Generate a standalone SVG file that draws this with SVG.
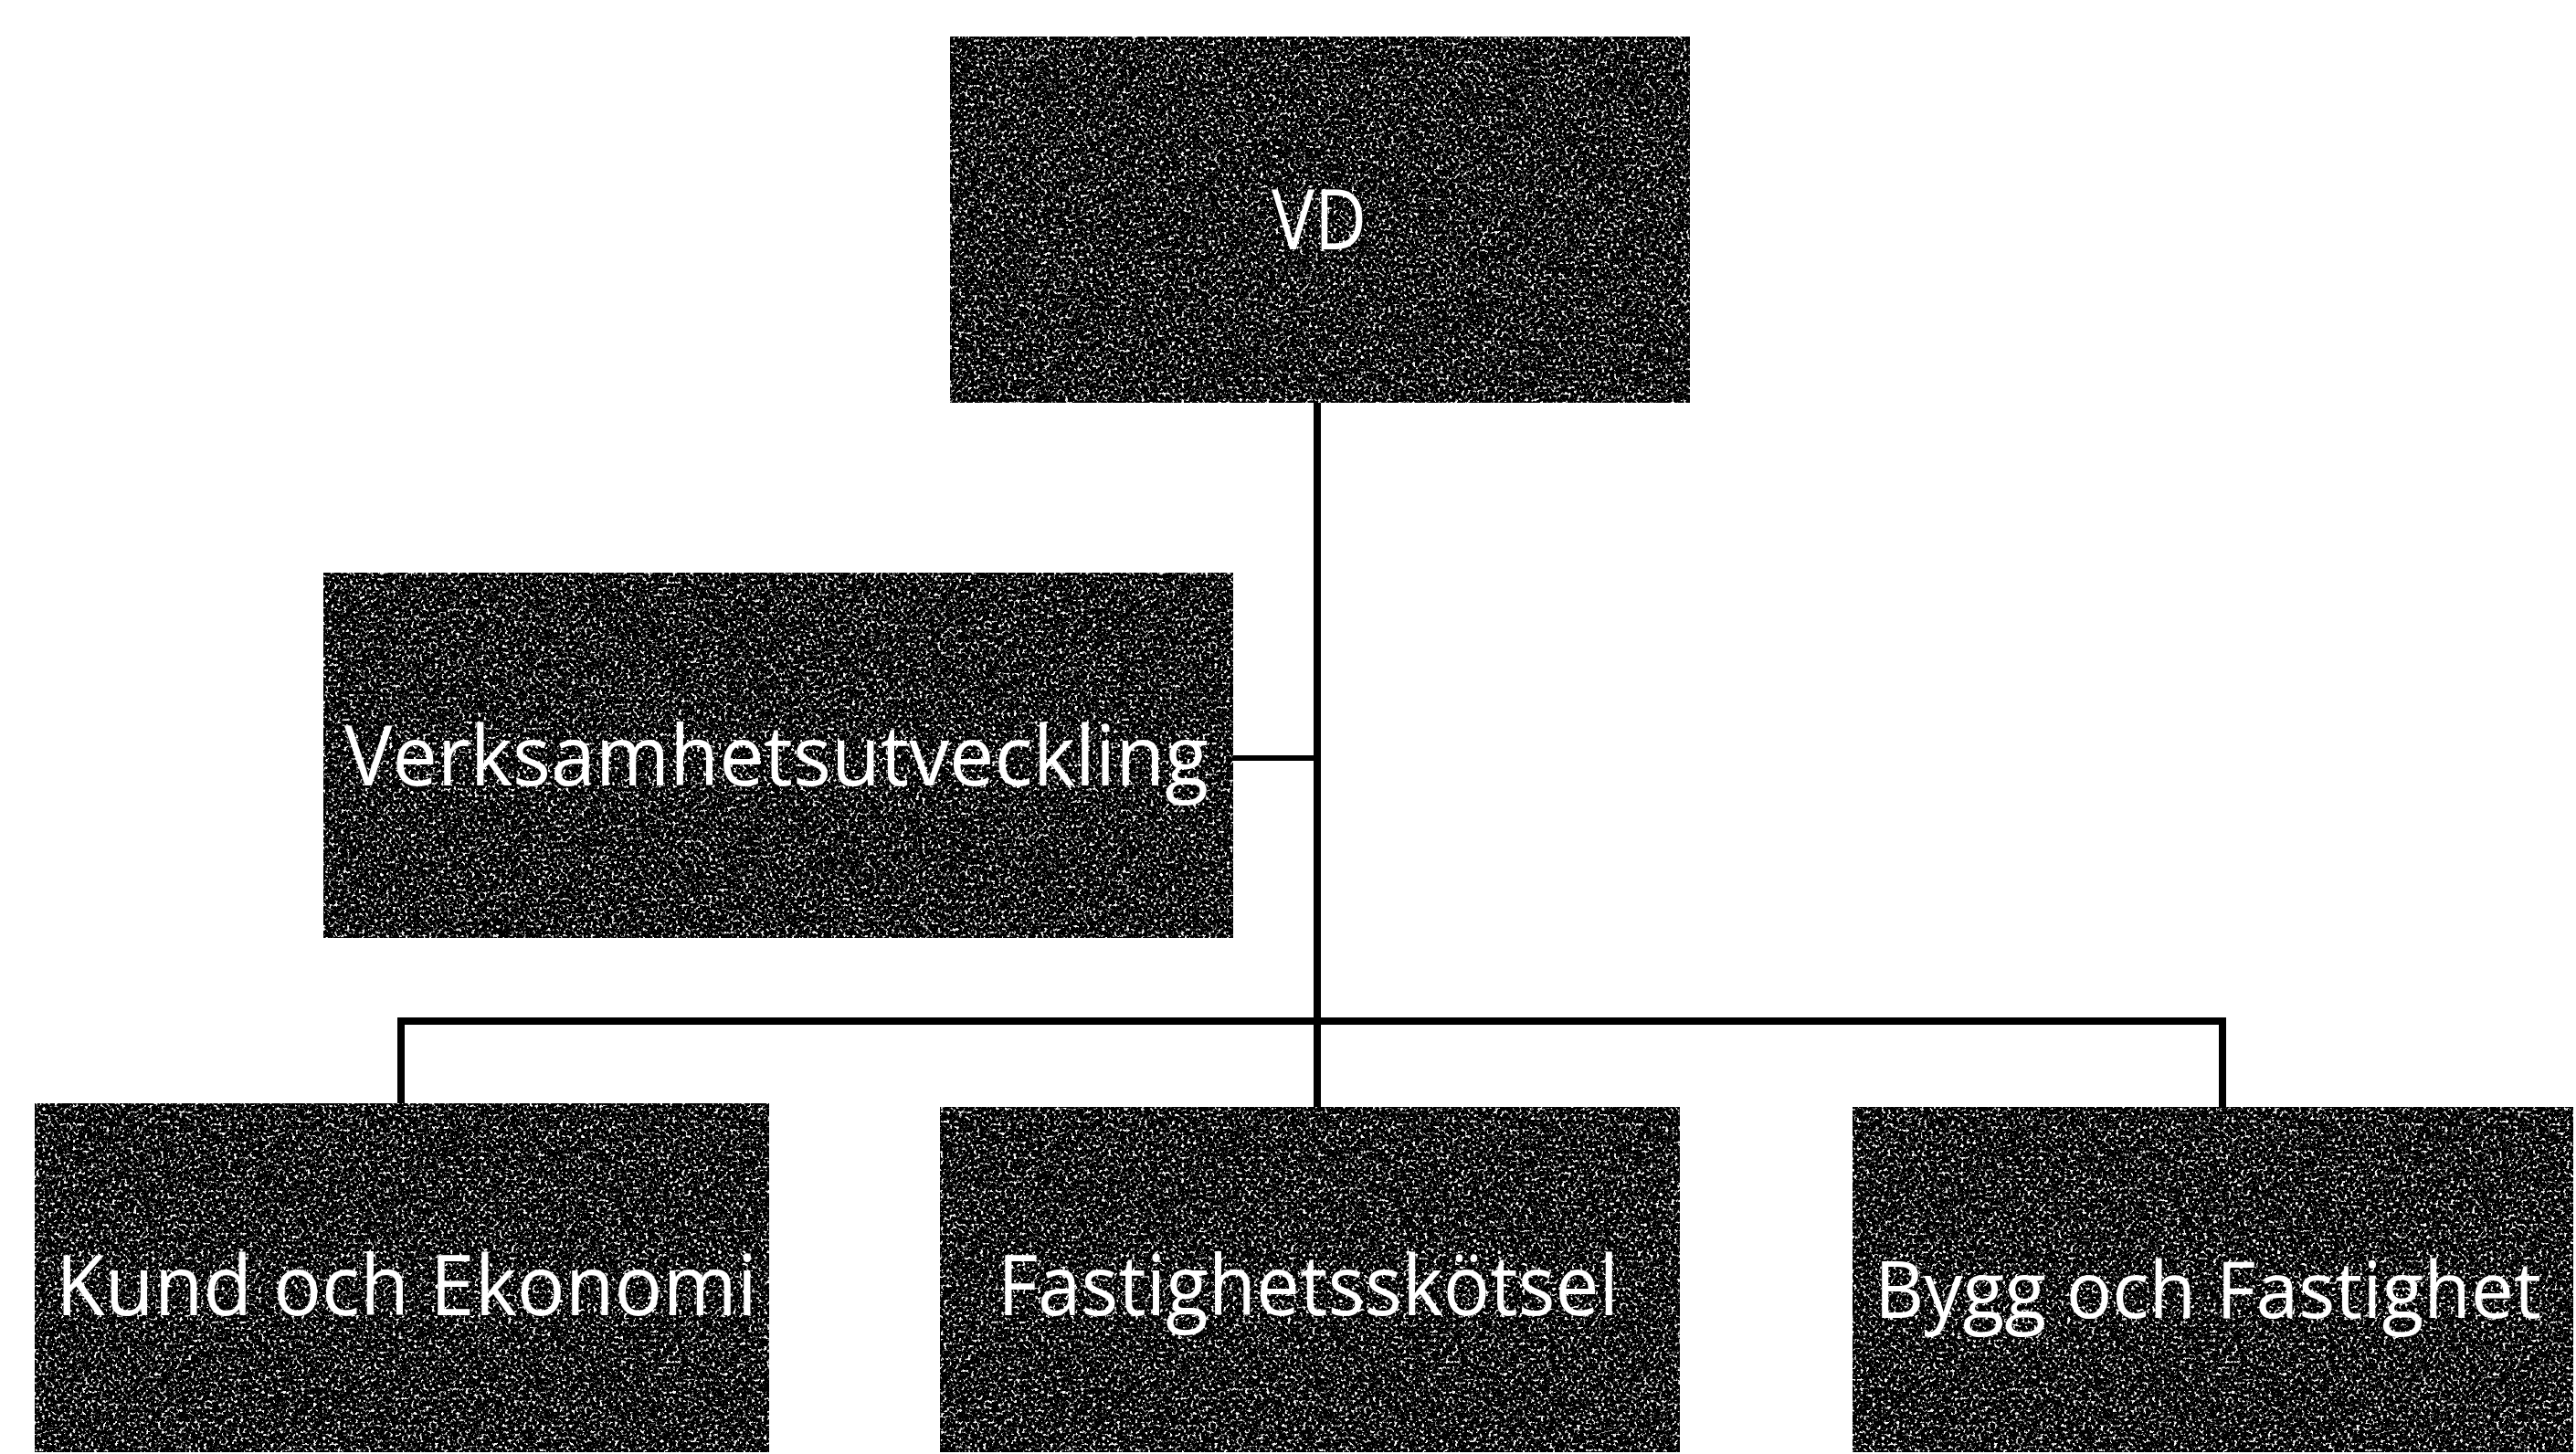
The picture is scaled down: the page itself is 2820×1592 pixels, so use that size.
<svg xmlns="http://www.w3.org/2000/svg" width="2820" height="1592" viewBox="0 0 2820 1592">
  <defs>
    <filter id="grain" x="0" y="0" width="100%" height="100%" color-interpolation-filters="sRGB">
      <feTurbulence type="fractalNoise" baseFrequency="0.3" numOctaves="3" seed="7" result="noise"/>
      <feColorMatrix in="noise" type="matrix" values="0 0 0 0 1  0 0 0 0 1  0 0 0 0 1  7 0 0 0 -3.9" result="spk"/>
      <feComposite in="spk" in2="SourceGraphic" operator="in" result="spkIn"/>
      <feMerge>
        <feMergeNode in="SourceGraphic"/>
        <feMergeNode in="spkIn"/>
      </feMerge>
    </filter>
  </defs>
  <style>
    .box { fill: #000000; stroke: #000000; stroke-width: 4; filter: url(#grain); }
    .lbl { font-family: "Open Sans", "Liberation Sans", sans-serif; fill: #ffffff; font-size: 92px; }
    .conn { stroke: #000000; stroke-width: 8; fill: none; stroke-linecap: square; }
    .thin { stroke: #000000; stroke-width: 6; fill: none; }
  </style>
  <rect width="2820" height="1592" fill="#ffffff"/>

  <g id="connectors">
    <path class="conn" d="M1442 441 V1212"/>
    <path class="conn" d="M439 1208 V1118 H2433 V1212"/>
    <path class="thin" d="M1350 830 H1442"/>
  </g>

  <g id="node-vd">
    <rect class="box" x="1040" y="40" width="810" height="401"/>
    <text class="lbl" x="1444" y="273" text-anchor="middle" textLength="104" lengthAdjust="spacingAndGlyphs">VD</text>
  </g>

  <g id="node-verksamhetsutveckling">
    <rect class="box" x="354" y="627" width="996" height="400"/>
    <text class="lbl" x="377" y="860" textLength="946" lengthAdjust="spacingAndGlyphs">Verksamhetsutveckling</text>
  </g>

  <g id="node-kund">
    <rect class="box" x="38" y="1208" width="804" height="382"/>
    <text class="lbl" x="61" y="1440" textLength="768" lengthAdjust="spacingAndGlyphs">Kund och Ekonomi</text>
  </g>

  <g id="node-fastighetsskotsel">
    <rect class="box" x="1029" y="1212" width="810" height="378"/>
    <text class="lbl" x="1092" y="1440" textLength="680" lengthAdjust="spacingAndGlyphs">Fastighetsskötsel</text>
  </g>

  <g id="node-bygg">
    <rect class="box" x="2028" y="1212" width="789" height="378"/>
    <text class="lbl" x="2052" y="1443" style="font-size:86px" textLength="730" lengthAdjust="spacingAndGlyphs">Bygg och Fastighet</text>
  </g>
</svg>
